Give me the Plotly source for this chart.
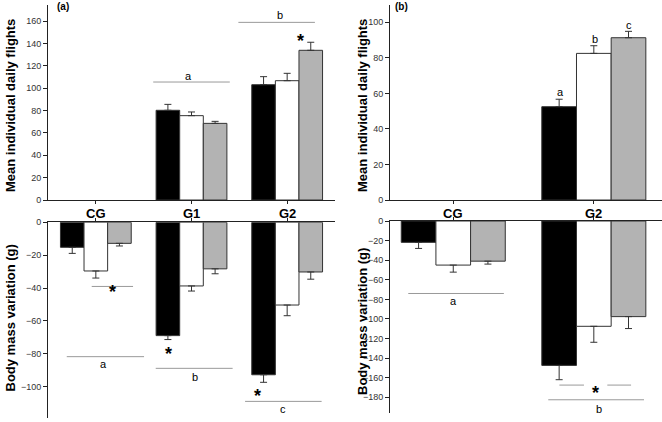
import plotly.graph_objects as go

# ---------------- data ----------------
cats_a = ["CG", "G1", "G2"]
cats_b = ["CG", "G2"]

# (a) top: mean individual daily flights
fl_a_black = [None, 80.3, 103.2]
fl_a_black_err = [0, 5.3, 7.2]
fl_a_white = [None, 75.5, 106.8]
fl_a_white_err = [0, 3.3, 6.6]
fl_a_gray = [None, 68.6, 134.0]
fl_a_gray_err = [0, 1.8, 7.2]

# (a) bottom: body mass variation (g)
bm_a_black = [-15.2, -68.9, -92.7]
bm_a_black_err = [3.7, 2.4, 4.6]
bm_a_white = [-29.6, -38.7, -50.3]
bm_a_white_err = [4.3, 3.1, 6.5]
bm_a_gray = [-12.8, -28.3, -30.2]
bm_a_gray_err = [1.6, 3.0, 4.4]

# (b) top
fl_b_black = [None, 52.5]
fl_b_black_err = [0, 4.2]
fl_b_white = [None, 82.5]
fl_b_white_err = [0, 4.3]
fl_b_gray = [None, 91.3]
fl_b_gray_err = [0, 3.6]

# (b) bottom
bm_b_black = [-21.8, -147.4]
bm_b_black_err = [6.2, 14.6]
bm_b_white = [-45.0, -107.5]
bm_b_white_err = [7.2, 16.3]
bm_b_gray = [-41.0, -97.6]
bm_b_gray_err = [3.0, 12.2]

ticks_fl_a = list(range(0, 161, 20))
ticks_bm_a = list(range(-100, 1, 20))
ticks_fl_b = list(range(0, 101, 20))
ticks_bm_b = list(range(-180, 1, 20))

# significance bars: (axis suffix, x0, x1, y)
sig_lines = [
    ("", 0.60, 1.40, 105.6), ("", 1.49, 2.29, 159.0),
    ("2", -0.043, 0.389, -39.0), ("2", -0.304, 0.504, -81.7),
    ("2", 0.626, 1.43, -88.8), ("2", 1.56, 2.36, -108.9),
    ("4", -0.32, 0.36, -74.0), ("4", 0.755, 0.93, -167.5),
    ("4", 1.096, 1.265, -167.5), ("4", 0.676, 1.357, -182.5),
]
# letters: (axis suffix, x, y, text)
sig_letters = [
    ("", 0.97, 111.0, "a"), ("", 1.92, 165.2, "b"),
    ("2", 0.075, -86.4, "a"), ("2", 1.037, -93.9, "b"), ("2", 1.956, -113.6, "c"),
    ("3", 0.76, 61.0, "a"), ("3", 1.01, 90.4, "b"), ("3", 1.25, 98.5, "c"),
    ("4", 0.005, -81.6, "a"), ("4", 1.04, -191.7, "b"),
]
# asterisks: (axis suffix, x, y)
stars = [("", 2.144, 146.0), ("2", 0.177, -39.8), ("2", 0.755, -77.7),
         ("2", 1.695, -103.0), ("4", 1.01, -172.0)]

# ---------------- figure ----------------
FONT = "Liberation Sans, Arial, sans-serif"
W, H = 662, 422
fill = {"black": "#000000", "white": "#ffffff", "gray": "#b3b3b3"}
edge = "#333333"

fig = go.Figure()

def add_bars(xvals, vals, errs, color, xa, ya, neg):
    err = dict(type="data", symmetric=False, color=edge, thickness=1, width=3.5, visible=True)
    if neg:
        err["array"] = [0] * len(errs)
        err["arrayminus"] = errs
    else:
        err["array"] = errs
        err["arrayminus"] = [0] * len(errs)
    fig.add_trace(go.Bar(x=xvals, y=vals, error_y=err, marker=dict(color=fill[color], line=dict(color=edge, width=1)),
                         xaxis=xa, yaxis=ya, showlegend=False, hoverinfo="skip",
                         offsetgroup=color))

xa_idx = list(range(len(cats_a)))
xb_idx = list(range(len(cats_b)))
for c, v, e in [("black", fl_a_black, fl_a_black_err), ("white", fl_a_white, fl_a_white_err), ("gray", fl_a_gray, fl_a_gray_err)]:
    add_bars(xa_idx, v, e, c, "x", "y", False)
for c, v, e in [("black", bm_a_black, bm_a_black_err), ("white", bm_a_white, bm_a_white_err), ("gray", bm_a_gray, bm_a_gray_err)]:
    add_bars(xa_idx, v, e, c, "x2", "y2", True)
for c, v, e in [("black", fl_b_black, fl_b_black_err), ("white", fl_b_white, fl_b_white_err), ("gray", fl_b_gray, fl_b_gray_err)]:
    add_bars(xb_idx, v, e, c, "x3", "y3", False)
for c, v, e in [("black", bm_b_black, bm_b_black_err), ("white", bm_b_white, bm_b_white_err), ("gray", bm_b_gray, bm_b_gray_err)]:
    add_bars(xb_idx, v, e, c, "x4", "y4", True)

def px(x):
    return x / W

def py(y):
    return 1 - y / H

axcol = "#222222"
tickfont = dict(family=FONT, size=9, color="#333333")
xbase = dict(showline=True, linecolor=axcol, linewidth=1, showgrid=False, zeroline=False,
             ticks="outside", ticklen=3, tickcolor=axcol, fixedrange=True, automargin=False,
             showticklabels=False)
ybase = dict(showline=True, linecolor=axcol, linewidth=1, showgrid=False, zeroline=False,
             ticks="outside", ticklen=4, tickcolor=axcol, tickfont=tickfont, fixedrange=True, automargin=False)

dom_xa = [px(48), px(335)]
dom_xb = [px(390), 1.0]
dom_top = [py(200), py(4.5)]
dom_bl = [py(418.0), py(222.3)]
dom_br = [py(413.0), py(221.0)]

fig.update_layout(
    width=W, height=H, margin=dict(l=0, r=0, t=0, b=0, pad=0, autoexpand=False),
    paper_bgcolor="white", plot_bgcolor="rgba(0,0,0,0)",
    barmode="group", bargap=0.26, bargroupgap=0,
    font=dict(family=FONT),
    xaxis=dict(xbase, domain=dom_xa, range=[-0.5, 2.5], anchor="y", tickvals=xa_idx),
    yaxis=dict(ybase, domain=dom_top, range=[0, 175], anchor="x", tickvals=ticks_fl_a),
    xaxis2=dict(xbase, domain=dom_xa, range=[-0.5, 2.5], anchor="y2", side="top", tickvals=xa_idx),
    yaxis2=dict(ybase, domain=dom_bl, range=[-119, 0], anchor="x2", tickvals=ticks_bm_a),
    xaxis3=dict(xbase, domain=dom_xb, range=[-0.45, 1.485], anchor="y3", tickvals=xb_idx),
    yaxis3=dict(ybase, domain=dom_top, range=[0, 110], anchor="x3", tickvals=ticks_fl_b),
    xaxis4=dict(xbase, domain=dom_xb, range=[-0.45, 1.485], anchor="y4", side="top", tickvals=xb_idx),
    yaxis4=dict(ybase, domain=dom_br, range=[-196, 0], anchor="x4", tickvals=ticks_bm_b),
)

shapes = []
for ax, x0, x1, y in sig_lines:
    shapes.append(dict(type="line", xref="x" + ax, yref="y" + ax, x0=x0, x1=x1, y0=y, y1=y,
                       line=dict(color="#999999", width=1), layer="below"))
fig.update_layout(shapes=shapes)

ann = []
# category labels between the panels
for xr, idx, cats in [("x2", xa_idx, cats_a), ("x4", xb_idx, cats_b)]:
    for i, c in zip(idx, cats):
        ann.append(dict(xref=xr, yref="paper", x=i, y=py(213), text="<b>%s</b>" % c, showarrow=False,
                        font=dict(family=FONT, size=13, color="#000000"), xanchor="center", yanchor="middle"))
for ax, x, y, t in sig_letters:
    ann.append(dict(xref="x" + ax, yref="y" + ax, x=x, y=y, text=t, showarrow=False,
                    font=dict(family=FONT, size=11, color="#000000"), xanchor="center", yanchor="middle"))
for ax, x, y in stars:
    ann.append(dict(xref="x" + ax, yref="y" + ax, x=x, y=y, text="<b>*</b>", showarrow=False,
                    font=dict(family=FONT, size=18, color="#000000"), xanchor="center", yanchor="middle", yshift=-4))
# axis titles
titles = [(10, 106, "Mean individual daily flights"), (10, 318.5, "Body mass variation (g)"),
          (362, 106, "Mean individual daily flights"), (362, 322, "Body mass variation (g)")]
for x, y, t in titles:
    ann.append(dict(xref="paper", yref="paper", x=px(x), y=py(y), text="<b>%s</b>" % t, textangle=-90,
                    showarrow=False, font=dict(family=FONT, size=13, color="#000000"),
                    xanchor="center", yanchor="middle"))
for x, y, t in [(55, 6, "(a)"), (393, 6, "(b)")]:
    ann.append(dict(xref="paper", yref="paper", x=px(x), y=py(y), text="<b>%s</b>" % t, showarrow=False,
                    font=dict(family=FONT, size=10, color="#000000"), xanchor="left", yanchor="middle"))
fig.update_layout(annotations=ann)

fig.write_html("out.html", config={"displayModeBar": False},
               post_script="document.body.style.margin='0';document.body.style.overflow='hidden';")
